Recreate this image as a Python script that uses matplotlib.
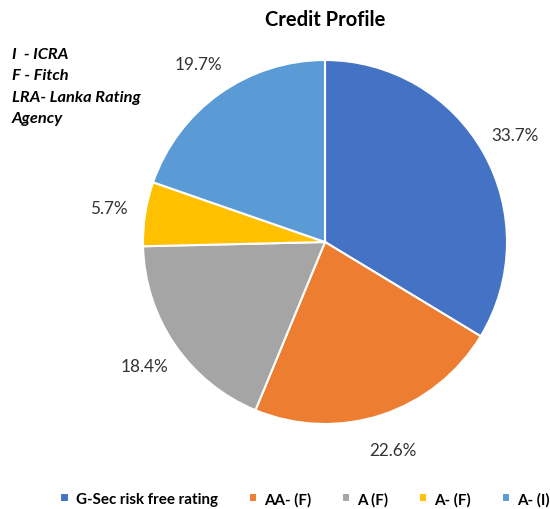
import matplotlib
matplotlib.use("Agg")
import matplotlib.pyplot as plt

categories = ["G-Sec risk free rating", "AA- (F)", "A (F)", "A- (F)", "A- (I)"]
values = [33.7, 22.6, 18.4, 5.7, 19.7]
colors = ["#4472C4", "#ED7D31", "#A5A5A5", "#FFC000", "#5B9BD5"]
note_lines = ["I  - ICRA", "F - Fitch", "LRA- Lanka Rating", "Agency"]

plt.rcParams['font.family'] = ['Lato', 'DejaVu Sans']

fig = plt.figure(figsize=(5.5, 5.1), dpi=100)
ax = fig.add_axes([143/550, 85/510, 364/550, 364/510])
wedges, texts, autotexts = ax.pie(
    values, colors=colors, startangle=90, counterclock=False,
    autopct=lambda p: f"{p:.1f}%", pctdistance=1.2,
    wedgeprops=dict(edgecolor="white", linewidth=1.5),
    textprops=dict(fontsize=12.3, color="#333333"), radius=1.0)
for t, v in zip(autotexts, values):
    t.set_text(f"{v:.1f}%")
ax.set_xlim(-1, 1)
ax.set_ylim(-1, 1)
ax.set_aspect("equal")

fig.text(325/550, 1 - 20/510, "Credit Profile", ha="center", va="center",
         fontsize=14.5, fontweight="bold", color="#000000")

for i, line in enumerate(note_lines):
    fig.text(12/550, 1 - (55 + 21.3 * i)/510, line, ha="left", va="center",
             fontsize=11.8, fontweight="bold", fontstyle="italic", color="#000000")

leg = fig.legend(wedges, categories, loc="center", bbox_to_anchor=(0.5545, 1 - 500/510),
                 ncol=5, frameon=False, fontsize=10.9, handlelength=0.55, handleheight=0.55,
                 columnspacing=2.05, handletextpad=0.45, borderpad=0.1)
for t in leg.get_texts():
    t.set_fontweight("bold")
    t.set_color("#000000")

fig.savefig("out.png", dpi=100)
